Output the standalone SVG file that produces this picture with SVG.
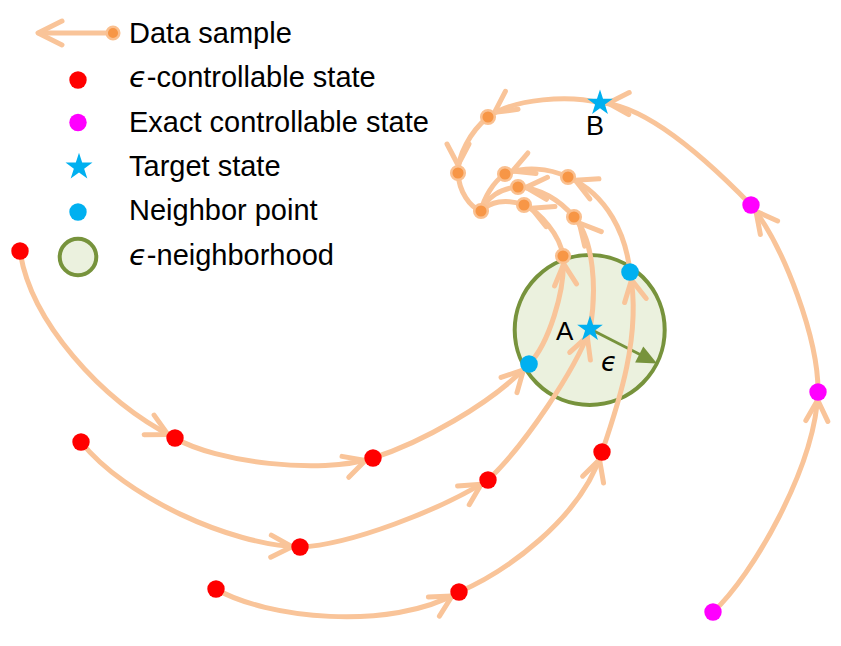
<svg xmlns="http://www.w3.org/2000/svg" width="841" height="646" viewBox="0 0 841 646">
<style>
.traj{fill:none;stroke:#F9C499;stroke-width:5;stroke-linecap:round}
.arr{marker-end:url(#chev)}
.red{fill:#FF0000}
.mag{fill:#FF00FF}
.nb{fill:#00B0F0}
.star{fill:#00B0F0}
.os{fill:#F79646;stroke:#FAC090;stroke-width:2.5}
.lbl{font-family:"Liberation Sans",Arial,sans-serif;font-size:29px;fill:#000}
.eps{font-family:"DejaVu Sans",sans-serif;font-style:italic}
.hood{fill:#EBF1DE;stroke:#77933C;stroke-width:4}
</style>
<defs>
<marker id="chev" markerUnits="userSpaceOnUse" viewBox="-30 -15 45 30" markerWidth="45" markerHeight="30" refX="8" refY="0" orient="auto" overflow="visible">
<path d="M-21,-11 L0,0 L-21,11" fill="none" stroke="#F9C499" stroke-width="5" stroke-linecap="round" stroke-linejoin="round"/>
</marker>
<path id="starshape" d="M0,-13.5 L3.03,-4.17 L12.84,-4.17 L4.91,1.59 L7.94,10.92 L0,5.16 L-7.94,10.92 L-4.91,1.59 L-12.84,-4.17 L-3.03,-4.17 Z"/>
</defs>

<!-- Legend -->
<g id="legend">
<g id="legend-data-sample">
<path class="traj" d="M113,33 H39"/>
<path d="M62,21 L38,33 L62,45" fill="none" stroke="#F9C499" stroke-width="5" stroke-linecap="round" stroke-linejoin="round"/>
<circle class="os" cx="113" cy="33" r="6.3"/>
<text class="lbl" x="129" y="43">Data sample</text>
</g>
<g id="legend-eps-controllable">
<circle class="red" cx="78" cy="80" r="8.7"/>
<text class="lbl" x="129" y="87"><tspan class="eps">ϵ</tspan>-controllable state</text>
</g>
<g id="legend-exact-controllable">
<circle class="mag" cx="78" cy="122.5" r="8.7"/>
<text class="lbl" x="129" y="132">Exact controllable state</text>
</g>
<g id="legend-target">
<use href="#starshape" class="star" transform="translate(79,167) scale(1.05)"/>
<text class="lbl" x="129" y="176">Target state</text>
</g>
<g id="legend-neighbor">
<circle class="nb" cx="78" cy="212" r="8.7"/>
<text class="lbl" x="129" y="220">Neighbor point</text>
</g>
<g id="legend-neighborhood">
<circle class="hood" cx="78" cy="257" r="18.3"/>
<text class="lbl" x="129" y="265"><tspan class="eps">ϵ</tspan>-neighborhood</text>
</g>
</g>

<!-- Neighborhood circle -->
<g id="neighborhood">
<circle class="hood" cx="589.7" cy="330" r="75"/>
<line x1="592" y1="330" x2="641" y2="355" stroke="#77933C" stroke-width="3"/>
<polygon points="657,363.5 635.1,362.4 643.3,346.4" fill="#77933C"/>
<text x="601" y="371" font-family="DejaVu Sans, sans-serif" font-style="italic" font-size="26" fill="#000">ϵ</text>
</g>

<!-- Connectors -->
<g id="connectors">
<path class="traj arr" d="M20,251 C30,320 100,400 175,438"/>
<path class="traj arr" d="M175,438 C215,462 320,475 373,458"/>
<path class="traj arr" d="M373,458 C420,443 490,405 529,364"/>
<path class="traj arr" d="M529,364 C548,345 566,290 563,256"/>
<path class="traj arr" d="M563,256 C560,235 540,212 524,205"/>
<path class="traj" d="M524,205 C505,198 490,202 481,211"/>

<path class="traj arr" d="M81,442 C125,497 230,545 300,547"/>
<path class="traj arr" d="M300,547 C350,545 440,510 488,480"/>
<path class="traj arr" d="M488,480 C525,445 575,370 590,329"/>
<path class="traj arr" d="M590,329 C597,290 594,240 574,217"/>
<path class="traj arr" d="M574,217 C560,200 540,188 518,187"/>
<path class="traj" d="M518,187 C500,188 487,198 481,211"/>

<path class="traj arr" d="M216,589 C265,618 390,632 459,592"/>
<path class="traj arr" d="M459,592 C505,572 580,520 602,452"/>
<path class="traj arr" d="M602,452 C618,405 642,335 630,272"/>
<path class="traj arr" d="M630,272 C626,235 608,195 568,177"/>
<path class="traj arr" d="M568,177 C548,168 525,166 505,174"/>
<path class="traj" d="M505,174 C493,182 484,198 481,211"/>

<path class="traj arr" d="M713,612 C753,575 815,467 818,392"/>
<path class="traj arr" d="M818,392 C818.5,340 785,248 751,205"/>
<path class="traj arr" d="M751,205 C715,168 648,104 600,103"/>
<path class="traj arr" d="M600,103 C570,95 515,98 488,117"/>
<path class="traj arr" d="M488,117 C470,132 458,155 458,173"/>
<path class="traj" d="M458,173 C459,192 470,207 481,211"/>
</g>

<!-- Epsilon-controllable states -->
<g id="r1"><circle class="red" cx="20" cy="251" r="8.7"/></g>
<g id="r2"><circle class="red" cx="175" cy="438" r="8.7"/></g>
<g id="r3"><circle class="red" cx="373" cy="458" r="8.7"/></g>
<g id="r4"><circle class="red" cx="81" cy="442" r="8.7"/></g>
<g id="r5"><circle class="red" cx="300" cy="547" r="8.7"/></g>
<g id="r6"><circle class="red" cx="488" cy="480" r="8.7"/></g>
<g id="r7"><circle class="red" cx="216" cy="589" r="8.7"/></g>
<g id="r8"><circle class="red" cx="459" cy="592" r="8.7"/></g>
<g id="r9"><circle class="red" cx="602" cy="452" r="8.7"/></g>

<!-- Exact controllable states -->
<g id="m1"><circle class="mag" cx="751" cy="205" r="8.7"/></g>
<g id="m2"><circle class="mag" cx="818" cy="392" r="8.7"/></g>
<g id="m3"><circle class="mag" cx="713" cy="612" r="8.7"/></g>

<!-- Neighbor points -->
<g id="n1"><circle class="nb" cx="529" cy="364" r="8.8"/></g>
<g id="n2"><circle class="nb" cx="630" cy="272" r="8.8"/></g>

<!-- Data sample points -->
<g id="o1"><circle class="os" cx="488" cy="117" r="6.8"/></g>
<g id="o2"><circle class="os" cx="458" cy="173" r="6.8"/></g>
<g id="o3"><circle class="os" cx="481" cy="211" r="6.8"/></g>
<g id="o4"><circle class="os" cx="505" cy="174" r="6.8"/></g>
<g id="o5"><circle class="os" cx="518" cy="187" r="6.8"/></g>
<g id="o6"><circle class="os" cx="524" cy="205" r="6.8"/></g>
<g id="o7"><circle class="os" cx="568" cy="177" r="6.8"/></g>
<g id="o8"><circle class="os" cx="574" cy="217" r="6.8"/></g>
<g id="o9"><circle class="os" cx="563" cy="256" r="6.8"/></g>

<!-- Target states -->
<g id="target-a">
<use href="#starshape" class="star" transform="translate(590,329)"/>
<text class="lbl" x="556" y="340" style="font-size:26px">A</text>
</g>
<g id="target-b">
<use href="#starshape" class="star" transform="translate(600,103)"/>
<text class="lbl" x="586" y="135" style="font-size:27px">B</text>
</g>
</svg>
